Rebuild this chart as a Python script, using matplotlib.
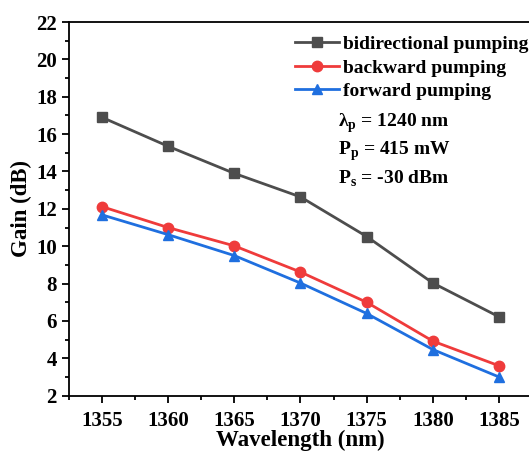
import numpy as np
import matplotlib
matplotlib.use("Agg")
import matplotlib.pyplot as plt
from matplotlib.ticker import MultipleLocator

plt.rcParams['font.family'] = ['Liberation Serif', 'DejaVu Serif']
plt.rcParams['font.weight'] = 'bold'
plt.rcParams['mathtext.fontset'] = 'custom'
plt.rcParams['mathtext.rm'] = 'Liberation Serif:bold'
plt.rcParams['mathtext.bf'] = 'Liberation Serif:bold'

wavelength = [1355, 1360, 1365, 1370, 1375, 1380, 1385]
gain_bi = [16.9, 15.35, 13.9, 12.64, 10.52, 8.03, 6.22]
gain_back = [12.12, 11.0, 10.02, 8.62, 7.0, 4.92, 3.6]
gain_fwd = [11.68, 10.62, 9.5, 8.03, 6.4, 4.47, 3.0]

fig = plt.figure(figsize=(5.29, 4.53), dpi=100)
ax = fig.add_axes([0.130, 0.1265, 0.876, 0.8249])

ax.plot(wavelength, gain_bi, color='#4d4d4d', lw=2, marker='s', ms=7,
        label='bidirectional pumping')
ax.plot(wavelength, gain_back, color='#ef3b3b', lw=2, marker='o', ms=7.5,
        label='backward pumping')
ax.plot(wavelength, gain_fwd, color='#1f6fdf', lw=2, marker='^', ms=7.5,
        label='forward pumping')

ax.set_xlim(1352.5, 1387.5)
ax.set_ylim(2, 22)
ax.xaxis.set_major_locator(MultipleLocator(5))
ax.xaxis.set_minor_locator(MultipleLocator(2.5))
ax.yaxis.set_major_locator(MultipleLocator(2))
ax.yaxis.set_minor_locator(MultipleLocator(1))
ax.tick_params(which='both', direction='out', width=1.3, labelsize=15)
ax.tick_params(which='major', length=5)
ax.tick_params(which='minor', length=3)
ax.tick_params(axis='x', pad=6)
ax.tick_params(top=False, right=False)
for s in ax.spines.values():
    s.set_linewidth(1.3)

ax.set_xlabel('Wavelength (nm)', fontsize=16.5, fontweight='bold', labelpad=-1)
ax.set_ylabel('Gain (dB)', fontsize=16.5, fontweight='bold', labelpad=3)

ax.legend(loc='upper left', bbox_to_anchor=(0.458, 1.0), frameon=False,
          fontsize=14, handlelength=2.3, handletextpad=0.2,
          labelspacing=0.3, borderaxespad=0.3)

ax.text(0.582, 0.73, 'λ$_\\mathbf{p}$ = 1240 nm', transform=ax.transAxes,
        fontsize=14, fontweight='bold', va='center')
ax.text(0.582, 0.655, 'P$_\\mathbf{p}$ = 415 mW', transform=ax.transAxes,
        fontsize=14, fontweight='bold', va='center')
ax.text(0.582, 0.58, 'P$_\\mathbf{s}$ = -30 dBm', transform=ax.transAxes,
        fontsize=14, fontweight='bold', va='center')

fig.savefig('out.png', dpi=100)
